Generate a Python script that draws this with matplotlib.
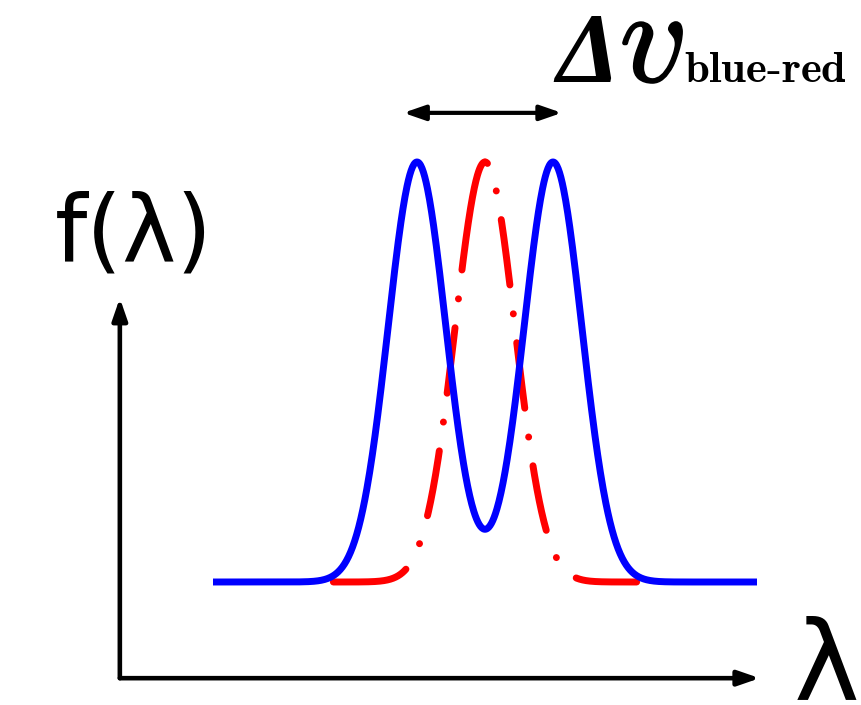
import numpy as np
import matplotlib
matplotlib.use("Agg")
import matplotlib.pyplot as plt
import matplotlib.patheffects as pe

# line profiles (wavelength in units of the blue peak offset, f normalised to peak = 1)
blue_centers = [-1.0, 1.0]
blue_widths = [0.425, 0.425]
blue_range = [-4.0, 4.0]
red_centers = [0.0]
red_widths = [0.44]
red_range = [-2.23, 2.23]
# peak separation shown by the double arrow
delta_v = [-1.2, 1.13]


def profile(lam, centers, widths):
    f = np.zeros_like(lam)
    for c, w in zip(centers, widths):
        f += np.exp(-0.5 * ((lam - c) / w) ** 2)
    return f / f.max()


plt.rcParams['lines.scale_dashes'] = False
plt.rcParams['mathtext.fontset'] = 'cm'

fig = plt.figure(figsize=(8.61, 7.05), dpi=100)
ax = fig.add_axes([0, 0, 1, 1])
ax.set_xlim(-485 / 68, 376 / 68)
ax.set_ylim(-123 / 420, 582 / 420)
ax.axis('off')

# red line: two halves drawn outward from the peak (dash-dot, lengths in points)
left_style = (0, (80.6, 20.9, 0.07, 20.9, 47.5, 20.9, 0.07, 20.9,
                  47.5, 20.9, 0.07, 20.9, 216, 7))
right_style = (45.4, (47.5, 20.9, 0.07, 20.9))
for end, ls in zip(red_range, [left_style, right_style]):
    lam_red = np.linspace(red_centers[0], end, 400)
    ax.plot(lam_red, profile(lam_red, red_centers, red_widths), color='#ff0000',
            lw=5, linestyle=ls, dash_capstyle='round')

lam_blue = np.linspace(blue_range[0], blue_range[1], 800)
ax.plot(lam_blue, profile(lam_blue, blue_centers, blue_widths), color='#0000ff',
        lw=5, solid_capstyle='butt')

# axes arrows
corner = (-5.37, -0.229)
arrow = dict(arrowstyle='-|>,head_length=1.3,head_width=0.45', lw=3.3, color='black',
             shrinkA=0, shrinkB=0)
ax.annotate('', xy=(corner[0], 0.676), xytext=corner, arrowprops=arrow)
ax.annotate('', xy=(4.04, corner[1]), xytext=corner, arrowprops=arrow)

# double arrow for the velocity difference
ax.annotate('', xy=(delta_v[1], 1.117), xytext=(delta_v[0], 1.117),
            arrowprops=dict(arrowstyle='<|-|>,head_length=1.3,head_width=0.45', lw=3,
                            color='black', shrinkA=0, shrinkB=0))

ax.text(-5.16, 0.825, 'f(λ)', fontsize=66, ha='center', va='center')
ax.text(5.0, -0.281, r'$\mathrm{\lambda}$', fontsize=80, ha='center', va='baseline',
        math_fontfamily='dejavusans')

bold = [pe.withStroke(linewidth=1.5, foreground='black')]
ax.text(1.05, 1.19, 'Δ', fontsize=72, family='Liberation Serif', weight='bold',
        style='italic', ha='left', va='baseline')
ax.text(1.98, 1.19, r'$v$', fontsize=96, ha='left', va='baseline', path_effects=bold)
ax.text(2.93, 1.19, r'$\mathbf{blue\text{-}red}$', fontsize=32, ha='left',
        va='baseline')

fig.savefig('out.png', dpi=100)
